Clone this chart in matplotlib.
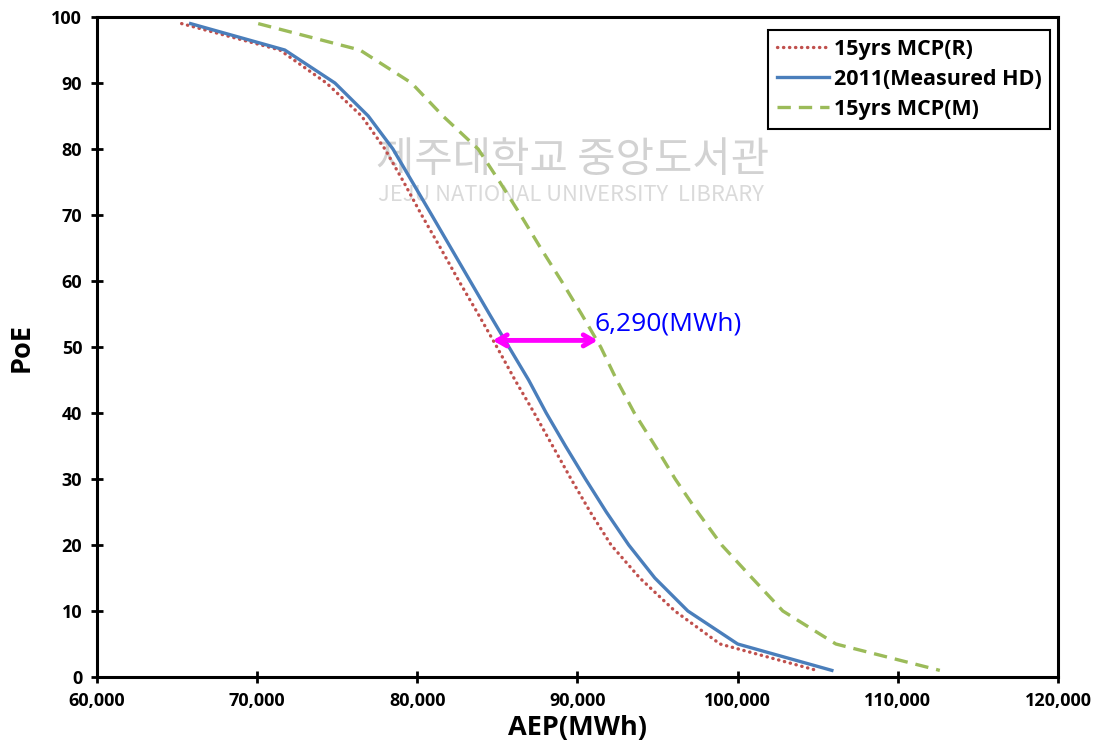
import numpy as np
import matplotlib
matplotlib.use("Agg")
import matplotlib.pyplot as plt
from matplotlib.ticker import FuncFormatter, MultipleLocator

# ── data ──
poe = [99, 95, 90, 85, 80, 75, 70, 65, 60, 55, 50, 45, 40, 35, 30, 25, 20, 15, 10, 5, 1]

aep_mcp_r = [65290, 71420, 74330, 76520, 77980, 79150, 80270, 81450, 82600, 83800,
             84970, 86100, 87300, 88450, 89600, 90800, 92100, 93890, 96080, 98900, 104940]
aep_measured = [65850, 71730, 74860, 76940, 78480, 79690, 80900, 82100, 83300, 84500,
                85720, 86950, 88050, 89250, 90500, 91800, 93200, 94830, 96890, 100000, 105880]
aep_mcp_m = [70070, 76420, 79640, 81600, 83800, 85150, 86450, 87700, 89000, 90250,
             91450, 92450, 93550, 94850, 96100, 97500, 99000, 100900, 102820, 106130, 112620]

arrow_x = [84700, 91270]
arrow_y = 51
gap_label = "6,290(MWh)"

plt.rcParams["font.family"] = ["Open Sans", "Noto Sans CJK KR", "DejaVu Sans"]

fig = plt.figure(figsize=(11.01, 7.56), dpi=100)
ax = fig.add_axes([0.088, 0.1045, 0.873, 0.873])

# watermark
ax.text(0.29, 0.782, "제주대학교 중앙도서관", transform=ax.transAxes, fontsize=30,
        color="#d2d2d2", ha="left", va="center", zorder=0,
        family=["Noto Sans CJK KR", "DejaVu Sans"])
ax.text(0.292, 0.73, "JEJU NATIONAL UNIVERSITY  LIBRARY", transform=ax.transAxes,
        fontsize=15.8, color="#dadada", ha="left", va="center", zorder=0,
        family=["Noto Sans CJK KR", "DejaVu Sans"])

ax.plot(aep_mcp_r, poe, color="#C0504D", linestyle=(0, (0.1, 1.7)), linewidth=2.4,
        dash_capstyle="round", label="15yrs MCP(R)", zorder=3)
ax.plot(aep_measured, poe, color="#4A7EBB", linestyle="-", linewidth=2.4,
        label="2011(Measured HD)", zorder=3)
ax.plot(aep_mcp_m, poe, color="#9BBB59", linestyle=(0, (4, 2.4)), linewidth=2.4,
        label="15yrs MCP(M)", zorder=3)

ax.annotate("", xy=(arrow_x[0], arrow_y), xytext=(arrow_x[1], arrow_y),
            arrowprops=dict(arrowstyle="<->,head_length=0.7,head_width=0.4",
                            color="#FF00FF", lw=3.5, shrinkA=0, shrinkB=0), zorder=4)
ax.text(arrow_x[1] - 200, arrow_y + 0.6, gap_label, color="#0000FF", fontsize=19,
        ha="left", va="bottom", zorder=5)

ax.set_xlim(60000, 120000)
ax.set_ylim(0, 100)
ax.xaxis.set_major_locator(MultipleLocator(10000))
ax.yaxis.set_major_locator(MultipleLocator(10))
ax.xaxis.set_major_formatter(FuncFormatter(lambda v, p: f"{int(v):,}"))

for s in ax.spines.values():
    s.set_linewidth(2.2)
ax.tick_params(direction="inout", length=9, width=2, labelsize=13, pad=6)
for lbl in ax.get_xticklabels() + ax.get_yticklabels():
    lbl.set_fontweight("bold")

ax.set_xlabel("AEP(MWh)", fontsize=19.5, fontweight="bold", labelpad=4)
ax.set_ylabel("PoE", fontsize=19.5, fontweight="bold", labelpad=12)

leg = ax.legend(loc="upper right", bbox_to_anchor=(0.992, 0.98), borderaxespad=0,
                fancybox=False, edgecolor="black", framealpha=1, handlelength=2.4,
                handletextpad=0.25, borderpad=0.4, labelspacing=0.42,
                prop=dict(size=15.5, weight="bold"))
leg.get_frame().set_linewidth(1.5)

fig.savefig("out.png", dpi=100)
